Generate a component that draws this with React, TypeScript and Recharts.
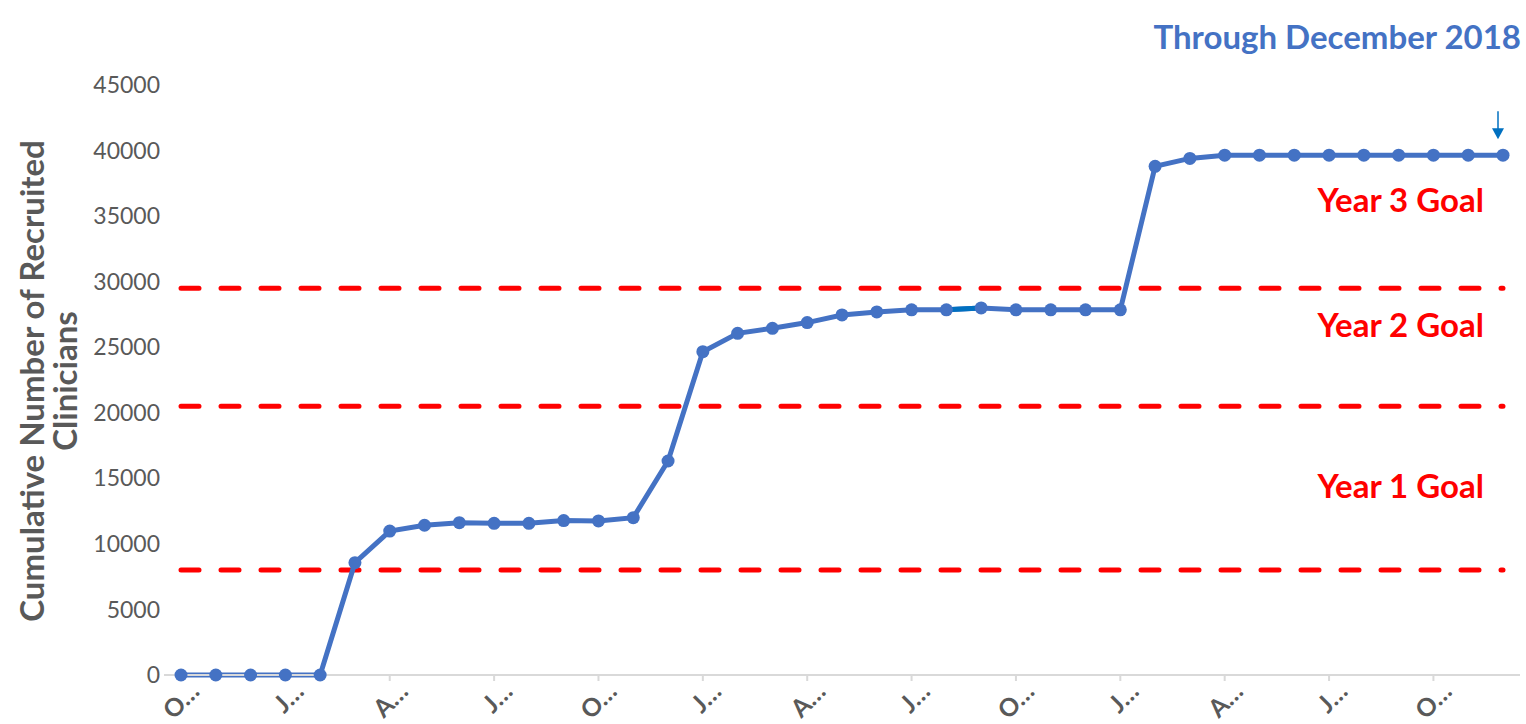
import React from 'react';
import {
  LineChart,
  Line,
  XAxis,
  YAxis,
  ReferenceLine,
  ReferenceDot,
} from 'recharts';

// Months Oct 2015 .. Dec 2018
const months = [
  'Oct-15', 'Nov-15', 'Dec-15',
  'Jan-16', 'Feb-16', 'Mar-16', 'Apr-16', 'May-16', 'Jun-16', 'Jul-16', 'Aug-16', 'Sep-16', 'Oct-16', 'Nov-16', 'Dec-16',
  'Jan-17', 'Feb-17', 'Mar-17', 'Apr-17', 'May-17', 'Jun-17', 'Jul-17', 'Aug-17', 'Sep-17', 'Oct-17', 'Nov-17', 'Dec-17',
  'Jan-18', 'Feb-18', 'Mar-18', 'Apr-18', 'May-18', 'Jun-18', 'Jul-18', 'Aug-18', 'Sep-18', 'Oct-18', 'Nov-18', 'Dec-18',
];

const recruited = [
  0, 0, 0,
  0, 0, 8570, 10980, 11420, 11620, 11570, 11570, 11780, 11750, 12000, 16320,
  24660, 26060, 26440, 26880, 27460, 27690, 27850, 27850, 28000, 27850, 27850, 27850,
  27850, 38800, 39400, 39650, 39650, 39650, 39650, 39650, 39650, 39650, 39650, 39650,
];

// small darker overlay segment seen in the original
const overlay: (number | null)[] = months.map(() => null);
overlay[22] = 27850;
overlay[23] = 28000;

const goalValues = [8000, 20500, 29500];
const goalLabels = ['Year 1 Goal', 'Year 2 Goal', 'Year 3 Goal'];
const goalLabelY = [14500, 26800, 36300];

const yTicks = [0, 5000, 10000, 15000, 20000, 25000, 30000, 35000, 40000, 45000];

const FONT = 'Lato, "Open Sans", sans-serif';
const GREY = '#595959';

const chartData = months.map((m, i) => ({ month: m, total: recruited[i], overlay: overlay[i] }));

const MonthTick = (props: any) => {
  const { x, y, payload } = props;
  const label = String(payload.value).charAt(0) + '\u2026';
  return (
    <g transform={`translate(${x + 20},${y + 10})`}>
      <text
        transform="rotate(-45)"
        textAnchor="end"
        fill={GREY}
        fontFamily={FONT}
        fontWeight={700}
        fontSize={25}
      >
        {label}
      </text>
    </g>
  );
};

const GoalLabel = (text: string) => (props: any) => {
  const { cx, cy } = props;
  return (
    <text
      x={cx + 2}
      y={cy}
      textAnchor="middle"
      dominantBaseline="central"
      fill="#FF0000"
      fontFamily={FONT}
      fontWeight={700}
      fontSize={33}
    >
      {text}
    </text>
  );
};

const Arrow = (props: any) => {
  const { cx, cy } = props;
  const x = cx - 5;
  return (
    <g>
      <line x1={x} y1={cy - 44} x2={x} y2={cy - 26} stroke="#0070C0" strokeWidth={1.5} />
      <path d={`M${x - 6},${cy - 27} L${x + 6},${cy - 27} L${x},${cy - 16} Z`} fill="#0070C0" />
    </g>
  );
};

export default function App() {
  const last = months.length - 1;
  return (
    <div style={{ position: 'absolute', left: 0, top: 0, width: 1526, height: 724, background: '#fff' }}>
      <div
        style={{
          position: 'absolute',
          right: 5,
          top: 14,
          fontFamily: FONT,
          fontWeight: 700,
          fontSize: 33,
          lineHeight: '44px',
          color: '#4472C4',
        }}
      >
        Through December 2018
      </div>
      <svg width={110} height={724} style={{ position: 'absolute', left: 0, top: 0 }}>
        <text
          transform="translate(49,381) rotate(-90)"
          textAnchor="middle"
          fill={GREY}
          fontFamily={FONT}
          fontWeight={700}
          fontSize={33}
        >
          <tspan x={0} y={-5}>Cumulative Number of Recruited</tspan>
          <tspan x={0} y={28}>Clinicians</tspan>
        </text>
      </svg>
      <div style={{ position: 'absolute', left: 0, top: 0 }}>
        <LineChart
          width={1526}
          height={724}
          data={chartData}
          margin={{ top: 85, right: 6, bottom: 0, left: 64 }}
        >
          <XAxis
            dataKey="month"
            interval={2}
            height={49}
            padding={{ left: 17, right: 17 }}
            axisLine={{ stroke: '#D9D9D9', strokeWidth: 2 }}
            tickLine={{ stroke: '#D9D9D9', strokeWidth: 2 }}
            tickSize={6}
            tick={<MonthTick />}
          />
          <YAxis
            width={100}
            domain={[0, 45000]}
            ticks={yTicks}
            axisLine={false}
            tickLine={false}
            tickSize={4}
            tickMargin={0}
            tick={{ fill: GREY, fontFamily: FONT, fontSize: 23 }}
          />
          {goalValues.map((v) => (
            <ReferenceLine
              key={v}
              segment={[{ x: months[0], y: v }, { x: months[last], y: v }]}
              stroke="#FF0000"
              strokeWidth={5}
              strokeDasharray="18 22"
              strokeLinecap="round"
            />
          ))}
          <Line
            type="linear"
            dataKey="total"
            stroke="#4472C4"
            strokeWidth={5}
            dot={{ r: 6.5, fill: '#4472C4', stroke: '#4472C4', strokeWidth: 0 }}
            activeDot={false}
            isAnimationActive={false}
          />
          <Line
            type="linear"
            dataKey="overlay"
            stroke="#0070C0"
            strokeWidth={5}
            dot={false}
            activeDot={false}
            connectNulls={false}
            isAnimationActive={false}
          />
          {goalLabels.map((t, i) => (
            <ReferenceDot key={t} x={months[35]} y={goalLabelY[i]} r={0} shape={GoalLabel(t)} />
          ))}
          <ReferenceDot x={months[last]} y={recruited[last]} r={0} shape={<Arrow />} />
        </LineChart>
      </div>
    </div>
  );
}
